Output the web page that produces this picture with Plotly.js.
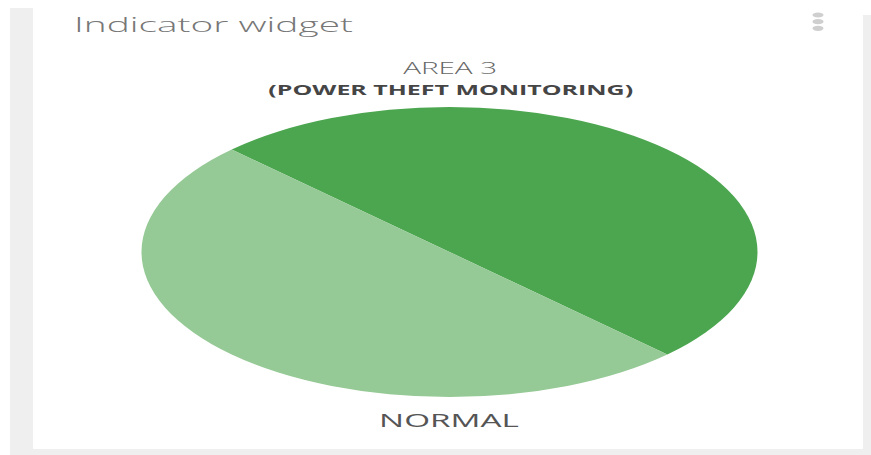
<!DOCTYPE html>
<html>
<head>
<meta charset="utf-8">
<script src="https://cdn.plot.ly/plotly-3.0.1.min.js"></script>
<style>
html,body{margin:0;padding:0;background:#fff;overflow:hidden;}
#wrap{width:871px;height:455px;overflow:hidden;position:relative;}
#plot{position:absolute;left:0;top:0;transform-origin:0 0;}
</style>
</head>
<body>
<div id="wrap"><div id="plot"></div></div>
<script>
// ---- data ----
const sliceLabels = ["Section A", "Section B"];
const sliceValues = [50, 50];
const sliceColors = ["#4ca64f", "#95c995"];
const widgetTitle = "Indicator widget";
const chartTitle = "AREA 3";
const chartSubtitle = "(POWER THEFT MONITORING)";
const statusText = "NORMAL";

// ---- geometry (the widget is displayed horizontally stretched) ----
const FW = 871, FH = 455;
const PW = 471;                 // plotly layout width
const SX = FW / PW;             // horizontal stretch of whole widget
const pieCX = 449.5, pieCY = 252, pieRY = 145, pieRX = 308;
const extraK = pieRX / (pieRY * SX);

document.getElementById('plot').style.transform = 'scaleX(' + SX + ')';

const px = x => x / FW;
const py = y => 1 - y / FH;

const dx = px(pieCX);
const trace = {
  type: 'pie',
  labels: sliceLabels,
  values: sliceValues,
  sort: false,
  direction: 'clockwise',
  rotation: -45,
  textinfo: 'none',
  hoverinfo: 'label+percent',
  marker: {colors: sliceColors, line: {width: 0}},
  domain: {x: [dx - 0.36, dx + 0.36], y: [py(pieCY + pieRY), py(pieCY - pieRY)]},
  showlegend: false
};

const gray = '#efefef';
const dotC = '#cfcfcf';
const shapes = [
  {type:'rect', xref:'paper', yref:'paper', x0:px(10), x1:px(33), y0:0, y1:py(8), fillcolor:gray, line:{width:0}, layer:'below'},
  {type:'rect', xref:'paper', yref:'paper', x0:px(863), x1:1, y0:0, y1:py(15), fillcolor:gray, line:{width:0}, layer:'below'},
  {type:'rect', xref:'paper', yref:'paper', x0:px(10), x1:1, y0:0, y1:py(449), fillcolor:gray, line:{width:0}, layer:'below'}
];
[15, 21.7, 28.3].forEach(cy => {
  shapes.push({type:'circle', xref:'paper', yref:'paper', x0:px(812.5), x1:px(823.5), y0:py(cy+2.6), y1:py(cy-2.6), fillcolor:dotC, line:{width:0}});
});

const annotations = [
  {text: widgetTitle, xref:'paper', yref:'paper', x:px(70), y:py(24), xanchor:'left', yanchor:'middle', showarrow:false,
   font:{family:'Open Sans', size:21, weight:300, color:'#777777'}},
  {text: chartTitle, xref:'paper', yref:'paper', x:px(450), y:py(68), xanchor:'center', yanchor:'middle', showarrow:false,
   font:{family:'Open Sans', size:16, weight:300, color:'#666666'}},
  {text: chartSubtitle, xref:'paper', yref:'paper', x:px(451), y:py(90), xanchor:'center', yanchor:'middle', showarrow:false,
   font:{family:'Open Sans', size:13.5, weight:700, color:'#454545'}},
  {text: statusText, xref:'paper', yref:'paper', x:px(450), y:py(420), xanchor:'center', yanchor:'middle', showarrow:false,
   font:{family:'Open Sans', size:18, weight:400, color:'#555555'}}
];

const layout = {
  width: PW, height: FH,
  margin: {l:0, r:0, t:0, b:0},
  paper_bgcolor: '#ffffff',
  plot_bgcolor: '#ffffff',
  shapes: shapes,
  annotations: annotations,
  showlegend: false
};

Plotly.newPlot('plot', [trace], layout, {displayModeBar:false, staticPlot:false}).then(() => {
  const g = document.querySelector('.pielayer');
  if (g) {
    const cx = dx * PW;
    g.setAttribute('transform', 'translate(' + cx + ',0) scale(' + extraK + ',1) translate(' + (-cx) + ',0)');
  }
});
</script>
</body>
</html>
